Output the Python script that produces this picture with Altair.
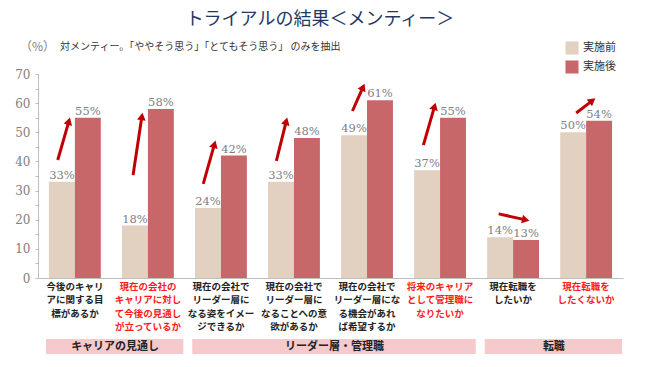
import math
import altair as alt
import pandas as pd

# ---------------- data ----------------
categories = [
    "今後のキャリ\nアに関する目\n標があるか",
    "現在の会社の\nキャリアに対し\nて今後の見通し\nが立っているか",
    "現在の会社で\nリーダー層に\nなる姿をイメー\nジできるか",
    "現在の会社で\nリーダー層に\nなることへの意\n欲があるか",
    "現在の会社で\nリーダー層にな\nる機会があれ\nば希望するか",
    "将来のキャリア\nとして管理職に\nなりたいか",
    "現在転職を\nしたいか",
    "現在転職を\nしたくないか",
]
label_colors = ["#222222", "#FF1A1A", "#222222", "#222222", "#222222", "#FF1A1A", "#222222", "#FF1A1A"]
series_names = ["実施前", "実施後"]
before = [33, 18, 24, 33, 49, 37, 14, 50]
after = [55, 58, 42, 48, 61, 55, 13, 54]

groups = ["キャリアの見通し", "リーダー層・管理職", "転職"]
group_start = [0, 2, 6]
group_end = [2, 6, 8]

# arrows, in category-index units (x) and value units (y)
arrow_x0 = [0.27, 1.30, 2.26, 3.26, 4.30, 5.27, 6.30, 7.36]
arrow_y0 = [40.5, 35.3, 32.3, 40.2, 57.3, 45.6, 22.0, 56.6]
arrow_x1 = [0.44, 1.43, 2.43, 3.41, 4.47, 5.44, 6.73, 7.63]
arrow_y1 = [55.3, 57.0, 47.4, 55.3, 66.9, 60.4, 19.6, 61.8]

title_text = "トライアルの結果＜メンティー＞"
unit_text = "（%）"
note_text = "対メンティー。「ややそう思う」「とてもそう思う」 のみを抽出"

# ---------------- layout ----------------
W, H = 585, 204
YMAX = 70
C_BEFORE = "#E2D0C1"
C_AFTER = "#C8676A"
ARROW = "#C00000"

bars_df = pd.DataFrame({
    "cat": categories * 2,
    "series": [series_names[0]] * len(categories) + [series_names[1]] * len(categories),
    "value": before + after,
})
cat_df = pd.DataFrame({"cat": categories, "color": label_colors})

px_x = W / len(categories)
px_y = H / YMAX
rows = []
for x0, y0, x1, y1 in zip(arrow_x0, arrow_y0, arrow_x1, arrow_y1):
    dx = (x1 - x0) * px_x
    dy = (y1 - y0) * px_y
    L = math.hypot(dx, dy)
    back = 4.5
    hx = x1 - (dx / L) * back / px_x
    hy = y1 - (dy / L) * back / px_y
    ang = math.degrees(math.atan2(dx, dy)) % 360
    rows.append({"x0": x0, "y0": y0, "hx": hx, "hy": hy, "ang": ang})
arrow_df = pd.DataFrame(rows)

group_df = pd.DataFrame({"g": groups, "gs": group_start, "ge": group_end})

xaxis = alt.Axis(labels=False, ticks=False, title=None, domainColor="#BFBFBF", domainWidth=1)
xscale = alt.Scale(paddingInner=0.29, paddingOuter=0.15)
xband = alt.X("cat:N", sort=categories, scale=xscale, axis=xaxis)
xoff = alt.XOffset("series:N", sort=series_names,
                   scale=alt.Scale(paddingInner=0, paddingOuter=0))
yscale = alt.Scale(domain=[0, YMAX], nice=False)
yaxis = alt.Axis(values=list(range(0, YMAX + 1, 5)),
                 labelExpr="datum.value % 10 == 0 ? datum.label : ''",
                 grid=False, title=None, tickSize=3, tickColor="#BFBFBF",
                 domainColor="#BFBFBF", labelColor="#808080",
                 labelFont="DejaVu Serif", labelFontSize=12, labelPadding=5)

bars = alt.Chart(bars_df).mark_bar().encode(
    x=xband,
    xOffset=xoff,
    y=alt.Y("value:Q", scale=yscale, axis=yaxis),
    color=alt.Color("series:N", sort=series_names,
                    scale=alt.Scale(domain=series_names, range=[C_BEFORE, C_AFTER]),
                    legend=alt.Legend(title=None, orient="none", legendX=527, legendY=-33,
                                      symbolType="square", symbolSize=170,
                                      symbolStrokeWidth=0, labelFontSize=11,
                                      labelFont="Noto Sans CJK JP", labelColor="#333333",
                                      rowPadding=5, labelOffset=4)),
)

vlabels = alt.Chart(bars_df).transform_calculate(
    lab="format(datum.value, 'd') + '%'"
).mark_text(baseline="bottom", dy=-1, font="DejaVu Serif", fontSize=11.5, color="#808080").encode(
    x=xband,
    xOffset=xoff,
    y=alt.Y("value:Q", scale=yscale, axis=yaxis),
    text="lab:N",
)

catlabels = alt.Chart(cat_df).mark_text(
    baseline="top", lineBreak="\n", lineHeight=13.3, fontSize=9.5,
    font="Noto Sans CJK JP", fontWeight="bold"
).encode(
    x=xband,
    y=alt.value(208),
    text="cat:N",
    color=alt.Color("color:N", scale=None),
)

band_layer = alt.layer(bars, vlabels, catlabels)

xq = lambda f: alt.X(f, type="quantitative", scale=alt.Scale(domain=[0, len(categories)], nice=False, zero=False), axis=None)

shafts = alt.Chart(arrow_df).mark_rule(color=ARROW, strokeWidth=3).encode(
    x=xq("x0"), x2="hx:Q",
    y=alt.Y("y0:Q", scale=yscale, axis=yaxis), y2="hy:Q",
)
heads = alt.Chart(arrow_df).mark_point(shape="triangle-up", filled=True, size=75,
                                       color=ARROW, opacity=1).encode(
    x=xq("hx"),
    y=alt.Y("hy:Q", scale=yscale, axis=yaxis),
    angle=alt.Angle("ang:Q", scale=None),
)
gbands = alt.Chart(group_df).mark_rect(color="#F6C9CD", xOffset=8, x2Offset=-1).encode(
    x=xq("gs"), x2="ge:Q",
    y=alt.value(265), y2=alt.value(280),
)
gtext = alt.Chart(group_df).transform_calculate(gm="(datum.gs + datum.ge) / 2").mark_text(
    fontSize=11, font="Noto Sans CJK JP", fontWeight="bold", color="#222222", dx=4
).encode(
    x=xq("gm"),
    y=alt.value(273),
    text="g:N",
)
quant_layer = alt.layer(shafts, heads, gbands, gtext)

title_df = pd.DataFrame({"t": [title_text]})
unit_df = pd.DataFrame({"t": [unit_text]})
note_df = pd.DataFrame({"t": [note_text]})
title = alt.Chart(title_df).mark_text(fontSize=18, font="Noto Sans CJK JP", color="#1F3864").encode(
    x=alt.value(282), y=alt.value(-54), text="t:N")
unit = alt.Chart(unit_df).mark_text(fontSize=12, font="Noto Sans CJK JP", color="#808080", align="left").encode(
    x=alt.value(-18), y=alt.value(-27), text="t:N")
note = alt.Chart(note_df).mark_text(fontSize=10, font="Noto Sans CJK JP", color="#333333", align="left").encode(
    x=alt.value(22), y=alt.value(-27), text="t:N")

chart = alt.layer(band_layer, quant_layer, title, unit, note).resolve_scale(
    x="independent"
).properties(
    width=W, height=H,
    padding={"left": 30, "top": 66, "right": 19, "bottom": 81},
    autosize="none",
).configure_view(stroke=None)

chart.save("out.html", embed_options={"renderer": "svg", "actions": False})
